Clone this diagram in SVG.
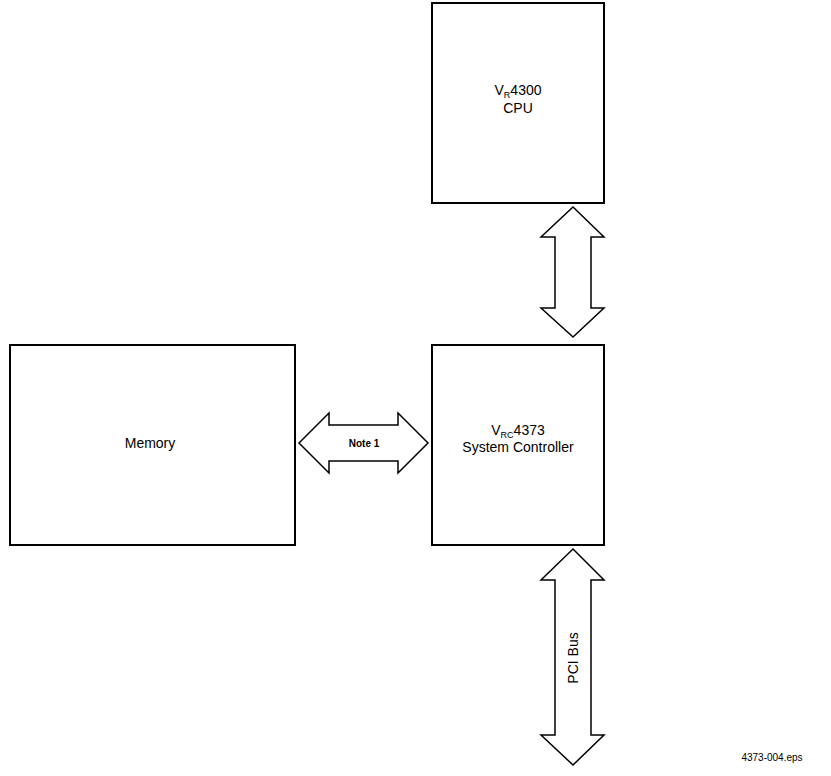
<svg xmlns="http://www.w3.org/2000/svg" width="831" height="776" viewBox="0 0 831 776">
<style>
.box{fill:#fff;stroke:#000;stroke-width:2}
.arr{fill:#fff;stroke:#000;stroke-width:1.5;stroke-linejoin:miter}
text{font-family:"Liberation Sans",Arial,sans-serif;font-size:14px;fill:#000;text-anchor:middle}
.sub{font-size:9px}
.small{font-size:10px}
</style>
<rect width="831" height="776" fill="#fff"/>
<g id="cpu">
<rect class="box" x="432" y="3" width="172" height="200"/>
<text x="518" y="95">V<tspan class="sub" dy="3">R</tspan><tspan dy="-3">4300</tspan></text>
<text x="518" y="113">CPU</text>
</g>
<g id="controller">
<rect class="box" x="432" y="345" width="172" height="200"/>
<text x="518" y="435">V<tspan class="sub" dy="3">RC</tspan><tspan dy="-3">4373</tspan></text>
<text x="518" y="452">System Controller</text>
</g>
<g id="memory">
<rect class="box" x="10" y="345" width="285" height="200"/>
<text x="150" y="448">Memory</text>
</g>
<g id="connectors">
<polygon class="arr" points="573,207 604,237 591,237 591,308 604,308 573,337 541,308 555,308 555,237 541,237"/>
<polygon class="arr" points="299,443 329,413 329,425 398,425 398,413 428,443 398,473 398,461 329,461 329,473"/>
<text class="small" x="364" y="447" style="font-weight:bold">Note 1</text>
<polygon class="arr" points="573,549 604,580 591,580 591,735 604,735 573,765 541,735 555,735 555,580 541,580"/>
<text x="578" y="658" transform="rotate(-90 578 658)">PCI Bus</text>
</g>
<text class="small" x="772" y="761">4373-004.eps</text>
</svg>
